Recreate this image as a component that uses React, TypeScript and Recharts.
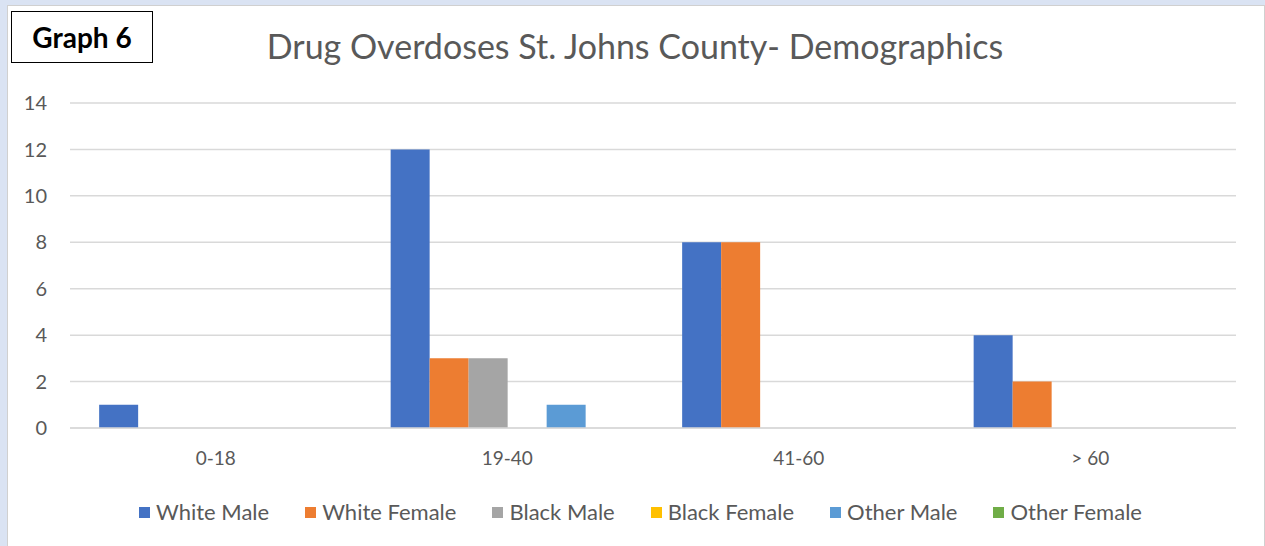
import React from "react";
import { BarChart, Bar, XAxis, YAxis, CartesianGrid, Legend } from "recharts";

const categories = ["0-18", "19-40", "41-60", "> 60"];
const whiteMale = [1, 12, 8, 4];
const whiteFemale = [0, 3, 8, 2];
const blackMale = [0, 3, 0, 0];
const blackFemale = [0, 0, 0, 0];
const otherMale = [0, 1, 0, 0];
const otherFemale = [0, 0, 0, 0];
const yTicks = [0, 2, 4, 6, 8, 10, 12, 14];

const series = [
  { key: "White Male", values: whiteMale, color: "#4472C4" },
  { key: "White Female", values: whiteFemale, color: "#ED7D31" },
  { key: "Black Male", values: blackMale, color: "#A5A5A5" },
  { key: "Black Female", values: blackFemale, color: "#FFC000" },
  { key: "Other Male", values: otherMale, color: "#5B9BD5" },
  { key: "Other Female", values: otherFemale, color: "#70AD47" },
];

const data = categories.map((c, i) => {
  const row: any = { name: c };
  series.forEach((s) => (row[s.key] = s.values[i]));
  return row;
});

const FONT = "Lato, 'Open Sans', sans-serif";

const renderLegend = () => {
  return (
    <div style={{ display: "flex", justifyContent: "center", fontFamily: FONT, fontSize: 22, color: "#595959", lineHeight: "26px" }}>
      {series.map((s) => (
        <div key={s.key} style={{ display: "flex", alignItems: "center", margin: "0 18px" }}>
          <span style={{ width: 11, height: 11, background: s.color, display: "inline-block", marginRight: 6 }} />
          <span>{s.key}</span>
        </div>
      ))}
    </div>
  );
};

export default function App() {
  return (
    <div style={{ position: "absolute", left: 0, top: 0, width: 1265, height: 546, background: "#DAE3F3", overflow: "hidden" }}>
      <div style={{ position: "absolute", left: 7, top: 5, width: 1256, height: 545, background: "#fff", border: "1px solid #D0D0D0" }} />
      <div style={{ position: "absolute", left: 0, top: 0 }}>
        <BarChart
          width={1265}
          height={546}
          data={data}
          margin={{ top: 103, right: 29, left: 20, bottom: 88 }}
          barCategoryGap="10%"
          barGap={0}
        >
          <CartesianGrid vertical={false} stroke="#D9D9D9" strokeWidth={1.5} />
          <XAxis
            dataKey="name"
            axisLine={{ stroke: "#D9D9D9", strokeWidth: 1.5 }}
            tickLine={false}
            tick={{ fill: "#595959", fontSize: 19, fontFamily: FONT }}
            tickMargin={18}
            height={30}
          />
          <YAxis
            ticks={yTicks}
            domain={[0, 14]}
            axisLine={false}
            tickLine={false}
            tick={{ fill: "#595959", fontSize: 20, fontFamily: FONT }}
            width={50}
            tickMargin={17}
          />
          <Legend
            content={renderLegend}
            wrapperStyle={{ position: "absolute", top: 499, left: 8, width: 1265, height: 0, overflow: "visible" }}
          />
          {series.map((s) => (
            <Bar key={s.key} dataKey={s.key} fill={s.color} isAnimationActive={false} />
          ))}
        </BarChart>
      </div>
      <div style={{ position: "absolute", left: 11, top: 11, width: 140, height: 50, border: "1.5px solid #000", background: "#fff", display: "flex", alignItems: "center", justifyContent: "center", fontFamily: FONT, fontWeight: 700, fontSize: 28, color: "#000" }}>
        Graph 6
      </div>
      <div style={{ position: "absolute", left: 0, top: 25, width: 1270, textAlign: "center", fontFamily: FONT, fontSize: 34, color: "#595959" }}>
        Drug Overdoses St. Johns County- Demographics
      </div>
    </div>
  );
}
